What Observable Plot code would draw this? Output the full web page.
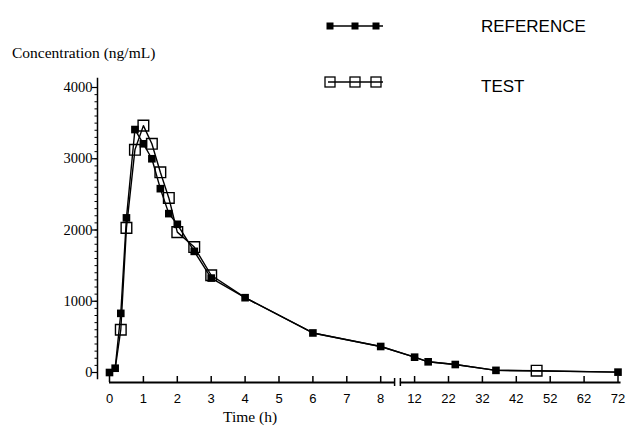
<!DOCTYPE html>
<html><head><meta charset="utf-8">
<script src="https://cdn.jsdelivr.net/npm/d3@7"></script>
<script src="https://cdn.jsdelivr.net/npm/@observablehq/plot@0.6"></script>
<style>
body{margin:0;background:#fff;}
#wrap{position:relative;width:632px;height:442px;}
.t{position:absolute;white-space:nowrap;color:#000;}
.serif{font-family:"Liberation Serif","Times New Roman",serif;font-size:15.5px;}
.sans{font-family:"Liberation Sans",Arial,sans-serif;font-size:17px;}
</style></head>
<body><div id="wrap"></div>
<script>
// Data (hours, ng/mL)
const refTimes  = [0, 0.167, 0.333, 0.5, 0.75, 1, 1.25, 1.5, 1.75, 2, 2.5, 3, 4, 6, 8, 12, 16, 24, 36, 72];
const refValues = [0, 60, 830, 2170, 3410, 3210, 3000, 2580, 2230, 2080, 1700, 1325, 1050, 555, 365, 215, 150, 112, 30, 5];
const testTimes  = [0, 0.167, 0.333, 0.5, 0.75, 1, 1.25, 1.5, 1.75, 2, 2.5, 3, 4, 6, 8, 12, 16, 24, 36, 48, 72];
const testValues = [0, 50, 600, 2030, 3125, 3465, 3210, 2810, 2450, 1970, 1760, 1365, 1050, 555, 365, 215, 150, 112, 30, 25, 5];
const testMarkerTimes = [0.333, 0.5, 0.75, 1, 1.25, 1.5, 1.75, 2, 2.5, 3, 48];
const xTickLabels = [0, 1, 2, 3, 4, 5, 6, 7, 8, 12, 22, 32, 42, 52, 62, 72];
const yTicks = [0, 1000, 2000, 3000, 4000];
const yMinorTicks = d3.range(0, 4001, 100);

// broken time axis: 0-8 h linear, then 12-72 h compressed 10x
const toU = t => t <= 8.5 ? t : 9 + (t - 12) / 10;
const axisSegments = [[0, 8.41], [8.58, 15.09]];
const pxY = 4000 / 285; // data units per pixel

const ref = refTimes.map((t, i) => ({t, c: refValues[i]}));
const test = testTimes.map((t, i) => ({t, c: testValues[i]}));
const testMarks = test.filter(d => testMarkerTimes.includes(d.t));

const chart = Plot.plot({
  width: 632, height: 442,
  marginLeft: 97, marginTop: 78, marginBottom: 64, marginRight: 10,
  x: {domain: [0, 15], range: [109, 617.5]},
  y: {domain: [0, 4000], range: [372, 87]},
  style: {background: "white", color: "black"},
  marks: [
    Plot.frame({anchor: "left", stroke: "black", strokeWidth: 1.5}),
    Plot.axisY({ticks: yMinorTicks, tickSize: 2.5, text: null, label: null, strokeWidth: 1}),
    Plot.axisY({ticks: yTicks, tickSize: 5, tickPadding: 0, tickFormat: d => String(d), label: null, fontFamily: "Liberation Serif", fontSize: 14.5, strokeWidth: 1.2}),
    Plot.axisX({ticks: xTickLabels.map(toU), tickFormat: (d, i) => String(xTickLabels[i]), tickSize: 0, tickPadding: 15, label: null, fontFamily: "Liberation Sans", fontSize: 13}),
    Plot.ruleY(axisSegments, {x1: d => d[0], x2: d => d[1], y: 0, dy: 10, stroke: "black", strokeWidth: 1.8}),
    Plot.ruleX(xTickLabels.map(toU), {x: d => d, y1: -10 * pxY, y2: -4 * pxY, stroke: "black", strokeWidth: 1.5}),
    Plot.ruleX([axisSegments[0][1], axisSegments[1][0]], {x: d => d, y1: -14 * pxY, y2: -6 * pxY, stroke: "black", strokeWidth: 1.5}),
    Plot.line(test, {x: d => toU(d.t), y: "c", stroke: "black", strokeWidth: 1.4}),
    Plot.line(ref, {x: d => toU(d.t), y: "c", stroke: "black", strokeWidth: 1.4}),
    Plot.dot(testMarks, {x: d => toU(d.t), y: "c", symbol: "square", r: 6, fill: "none", stroke: "black", strokeWidth: 1.4}),
    Plot.dot(ref, {x: d => toU(d.t), y: "c", symbol: "square", r: 4.3, fill: "black", stroke: "none"})
  ]
});
const wrap = document.getElementById("wrap");
wrap.appendChild(chart);

function addText(txt, cls, left, top) {
  const d = document.createElement("div");
  d.className = "t " + cls; d.textContent = txt;
  d.style.left = left + "px"; d.style.top = top + "px";
  wrap.appendChild(d);
  return d;
}
addText("Concentration (ng/mL)", "serif", 12, 44);
const xt = addText("Time (h)", "serif", 0, 408);
xt.style.left = (250 - xt.offsetWidth / 2) + "px";
addText("REFERENCE", "sans", 481, 17);
addText("TEST", "sans", 481, 77);

// legend keys
const ns = "http://www.w3.org/2000/svg";
const key = document.createElementNS(ns, "svg");
key.setAttribute("width", 80); key.setAttribute("height", 100);
key.style.position = "absolute"; key.style.left = "320px"; key.style.top = "0px";
key.innerHTML =
  '<line x1="8" x2="63" y1="26" y2="26" stroke="black" stroke-width="1.4"/>' +
  [10, 35, 56].map(x => `<rect x="${x - 3.5}" y="22.5" width="7" height="7" fill="black"/>`).join("") +
  '<line x1="8" x2="63" y1="82" y2="82" stroke="black" stroke-width="1.4"/>' +
  [10, 35, 56].map(x => `<rect x="${x - 5}" y="77" width="10" height="10" fill="none" stroke="black" stroke-width="1.3"/>`).join("");
wrap.appendChild(key);
</script></body></html>
